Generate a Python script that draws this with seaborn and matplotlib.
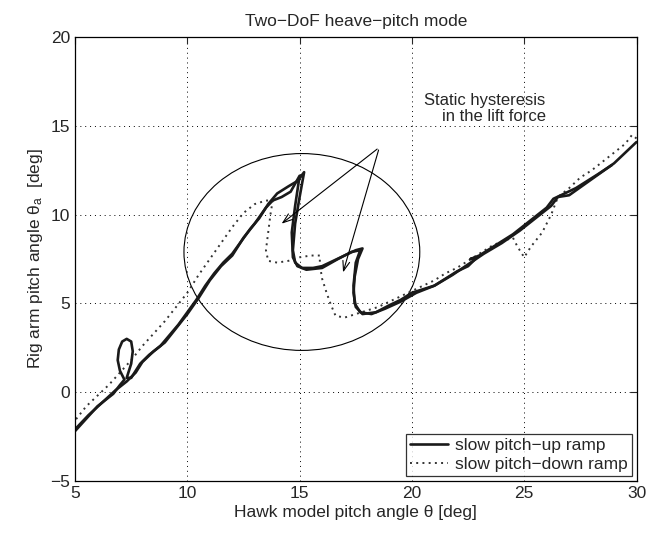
import numpy as np
import pandas as pd
import matplotlib
matplotlib.use("Agg")
import matplotlib.pyplot as plt
import seaborn as sns
from matplotlib.patches import Ellipse

# --- data ---
up_a_x = [5.0, 5.5, 6.0, 6.3, 6.7, 7.0, 7.2, 7.0, 6.9, 6.95, 7.1, 7.3, 7.5, 7.57, 7.5, 7.35, 7.3,
          7.5, 7.9, 8.3, 8.8,
          9.2, 9.6, 10.0, 10.4, 10.8, 11.2, 11.6, 12.0, 12.4, 12.8, 13.2, 13.6, 14.0, 14.5, 14.9, 15.2,
          15.0, 14.8, 14.7, 14.8, 15.1, 15.6, 16.0, 16.5, 17.0, 17.5, 17.8, 17.6, 17.45, 17.4, 17.5,
          17.8, 18.4, 19.0, 19.5, 20.0, 20.5, 21.0, 21.5, 22.0, 22.5, 22.9, 22.6, 23.0, 23.5, 24.0,
          24.5, 25.0, 25.5, 26.0, 26.3, 26.8, 27.3, 27.8, 28.3, 28.9]
up_a_y = [-2.2, -1.5, -0.8, -0.5, -0.1, 0.4, 0.7, 1.2, 1.8, 2.4, 2.85, 3.0, 2.85, 2.3, 1.6, 1.0, 0.8,
          0.8, 1.6, 2.1, 2.6,
          3.2, 3.8, 4.5, 5.2, 6.0, 6.7, 7.3, 7.8, 8.5, 9.2, 9.8, 10.6, 11.2, 11.6, 11.9, 12.4,
          11.0, 9.5, 8.0, 7.3, 7.0, 7.0, 7.1, 7.4, 7.7, 8.0, 8.1, 7.5, 6.5, 5.6, 4.8,
          4.4, 4.5, 4.9, 5.2, 5.6, 5.8, 6.0, 6.4, 6.8, 7.1, 7.6, 7.5, 7.7, 8.1, 8.5,
          8.9, 9.4, 9.9, 10.4, 10.9, 11.2, 11.5, 11.9, 12.3, 12.8]

up_b_x = [5.0, 5.6, 6.2, 6.8, 7.3, 7.7, 8.0, 8.5, 9.0, 9.5, 10.0, 10.5, 11.0, 11.5, 12.0, 12.5, 13.0,
          13.5, 13.8, 14.2, 14.6, 15.0, 14.8, 14.65, 14.7, 14.9, 15.3, 16.0, 16.7, 17.3, 17.7, 17.5,
          17.4, 17.45, 17.7, 18.2, 18.8, 19.5, 20.2, 21.0, 21.8, 22.5, 23.2, 24.0, 24.8, 25.5, 26.2,
          26.5, 27.0, 28.0, 29.0, 30.0]
up_b_y = [-2.1, -1.3, -0.6, 0.1, 0.6, 1.1, 1.7, 2.3, 2.8, 3.6, 4.4, 5.3, 6.3, 7.1, 7.7, 8.7, 9.5,
          10.4, 10.8, 11.0, 11.3, 12.2, 10.5, 9.0, 7.6, 7.1, 6.9, 7.0, 7.5, 7.9, 8.0, 7.3,
          6.0, 5.0, 4.5, 4.4, 4.7, 5.1, 5.6, 6.0, 6.6, 7.2, 7.8, 8.4, 9.1, 9.8, 10.5,
          11.0, 11.1, 12.0, 12.9, 14.1]

down_x = [30.0, 29.8, 29.5, 29.0, 28.5, 28.0, 27.5, 27.0, 26.5, 26.2, 25.8, 25.3, 25.0, 24.7, 24.5,
          24.0, 23.5, 23.0, 22.5, 22.0, 21.5, 21.0, 20.5, 20.0, 19.5, 19.0, 18.5, 18.0, 17.5, 17.0,
          16.6, 16.4, 16.2, 16.0, 15.9, 15.9, 15.5, 15.0, 14.5, 14.0, 13.6, 13.5, 13.6, 13.7, 13.8,
          13.5, 13.0, 12.5, 12.0, 11.5, 11.0, 10.5, 10.0, 9.5, 9.0, 8.5, 8.0, 7.5, 7.0, 6.5, 6.0,
          5.5, 5.0]
down_y = [14.3, 14.5, 14.0, 13.5, 13.0, 12.5, 12.1, 11.5, 11.0, 10.0, 9.0, 8.2, 7.6, 8.2, 8.7,
          8.5, 8.2, 7.8, 7.4, 7.0, 6.7, 6.3, 6.0, 5.7, 5.4, 5.1, 4.8, 4.6, 4.4, 4.2,
          4.3, 4.9, 5.6, 6.4, 7.2, 7.7, 7.7, 7.6, 7.4, 7.3, 7.4, 8.0, 9.0, 10.0, 10.8,
          10.8, 10.6, 10.1, 9.3, 8.4, 7.5, 6.6, 5.6, 4.8, 4.0, 3.3, 2.6, 1.8, 1.1, 0.4, -0.2,
          -0.8, -1.6]

x_ticks = [5, 10, 15, 20, 25, 30]
y_ticks = [-5, 0, 5, 10, 15, 20]

title = "Two\u2212DoF heave\u2212pitch mode"
label_up = "slow pitch\u2212up ramp"
label_down = "slow pitch\u2212down ramp"
annot = "Static hysteresis\nin the lift force"

# --- style ---
sns.set_style("white")
plt.rcParams["font.family"] = ["Liberation Sans", "DejaVu Sans"]
plt.rcParams["mathtext.fontset"] = "custom"
plt.rcParams["mathtext.rm"] = "Liberation Sans"
plt.rcParams["mathtext.it"] = "Liberation Sans:italic"

fig = plt.figure(figsize=(6.70, 5.42), dpi=100)
ax = fig.add_axes([0.112, 0.113, 0.838, 0.818])

df_a = pd.DataFrame({"x": up_a_x, "y": up_a_y})
df_b = pd.DataFrame({"x": up_b_x, "y": up_b_y})
df_d = pd.DataFrame({"x": down_x, "y": down_y})

sns.lineplot(data=df_d, x="x", y="y", sort=False, estimator=None, ax=ax,
             color="#333333", lw=1.4, linestyle=(0, (1, 2.2)), label=label_down)
sns.lineplot(data=df_b, x="x", y="y", sort=False, estimator=None, ax=ax,
             color="#1a1a1a", lw=1.9, label="_nolegend_")
sns.lineplot(data=df_a, x="x", y="y", sort=False, estimator=None, ax=ax,
             color="#1a1a1a", lw=1.9, label=label_up)

ax.set_xlim(5, 30)
ax.set_ylim(-5, 20)
ax.set_xticks(x_ticks)
ax.set_yticks(y_ticks)
ax.grid(True, color="black", linestyle=(0, (1, 4)), linewidth=0.7)
ax.tick_params(direction="in", top=True, right=True, length=5, labelsize=12.5, width=0.8)
for s in ax.spines.values():
    s.set_color("black")
    s.set_linewidth(0.9)

ax.set_title(title, fontsize=12.5, pad=8)
ax.set_xlabel("Hawk model pitch angle \u03b8 [deg]", fontsize=12.5, labelpad=3)
ax.set_ylabel("Rig arm pitch angle \u03b8$_\\mathregular{a}$  [deg]", fontsize=12.5, labelpad=4)

# annotation ellipse and arrows
ax.add_patch(Ellipse((15.1, 7.9), 10.5, 11.1, fill=False, edgecolor="black", lw=0.8))
ax.text(25.95, 16.0, annot, ha="right", va="center", fontsize=12, linespacing=1.1)
for tx, ty in [(14.1, 9.4), (16.9, 6.6)]:
    ax.annotate("", xy=(tx, ty), xytext=(18.55, 13.8),
                arrowprops=dict(arrowstyle="->,head_length=0.7,head_width=0.25",
                                color="black", lw=0.8))

# legend (up first)
h, l = ax.get_legend_handles_labels()
order = [l.index(label_up), l.index(label_down)]
leg = ax.legend([h[i] for i in order], [l[i] for i in order], loc="lower right",
                fontsize=12.5, frameon=True, fancybox=False, borderaxespad=0.25,
                handlelength=2.2, handletextpad=0.4, borderpad=0.25, labelspacing=0.2)
leg.get_frame().set_edgecolor("black")
leg.get_frame().set_linewidth(0.9)

fig.savefig("out.png", dpi=100)
